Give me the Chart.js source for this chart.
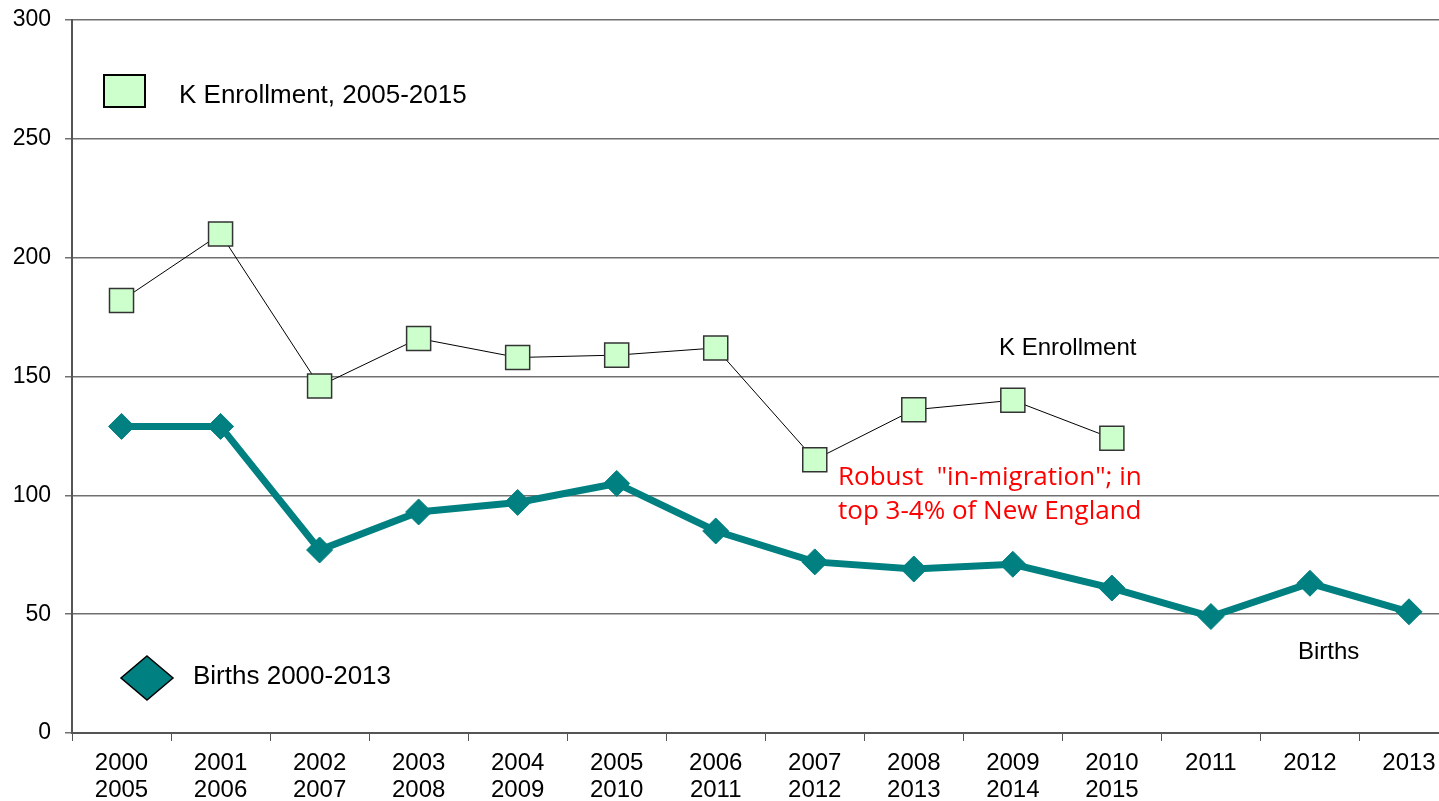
<!DOCTYPE html>
<html>
<head>
<meta charset="utf-8">
<script src="https://cdn.jsdelivr.net/npm/chart.js@4.4.1/dist/chart.umd.min.js"></script>
<style>
  html, body { margin: 0; padding: 0; background: #fff; overflow: hidden; }
  #wrap { position: relative; width: 1477px; height: 801px; }
</style>
</head>
<body>
<div id="wrap"><canvas id="chart"></canvas></div>
<script>
// category labels (birth year / kindergarten year)
const birthYears = ['2000', '2001', '2002', '2003', '2004', '2005', '2006', '2007', '2008', '2009', '2010', '2011', '2012', '2013'];
const kYears = ['2005', '2006', '2007', '2008', '2009', '2010', '2011', '2012', '2013', '2014', '2015', '', '', ''];

const kEnrollment = [182, 210, 146, 166, 158, 159, 162, 115, 136, 140, 124, null, null, null];
const births = [129, 129, 77, 93, 97, 105, 85, 72, 69, 71, 61, 49, 63, 51];

const yTicks = [0, 50, 100, 150, 200, 250, 300];

const labels = birthYears.map((b, i) => kYears[i] ? [b, kYears[i]] : b);

const TEAL = '#008080';
const GREEN = '#ccffcc';
const FONT = '"Liberation Sans", Arial, sans-serif';

// free text and hand-made legend drawn on top of the plot
const notesPlugin = {
  id: 'notes',
  afterDatasetsDraw(chart) {
    const ctx = chart.ctx;
    ctx.save();

    // legend: square
    ctx.fillStyle = GREEN;
    ctx.strokeStyle = '#000';
    ctx.lineWidth = 2;
    ctx.fillRect(104, 75, 41, 32);
    ctx.strokeRect(104, 75, 41, 32);

    // legend: diamond
    ctx.beginPath();
    ctx.moveTo(147, 656);
    ctx.lineTo(173, 678);
    ctx.lineTo(147, 700);
    ctx.lineTo(121, 678);
    ctx.closePath();
    ctx.fillStyle = TEAL;
    ctx.fill();
    ctx.lineWidth = 1.5;
    ctx.stroke();

    ctx.fillStyle = '#000';
    ctx.textBaseline = 'middle';
    ctx.textAlign = 'left';
    ctx.font = '26px ' + FONT;
    ctx.fillText('K Enrollment, 2005-2015', 179, 96);
    ctx.fillText('Births 2000-2013', 193, 677);

    ctx.font = '24px ' + FONT;
    ctx.fillText('K Enrollment', 999, 348);
    ctx.fillText('Births', 1298, 652);

    ctx.fillStyle = '#ff0000';
    ctx.font = '26px "Open Sans", sans-serif';
    ctx.fillText('Robust  "in-migration"; in', 838, 478);
    ctx.fillText('top 3-4% of New England', 838, 512);
    ctx.restore();
  }
};

new Chart(document.getElementById('chart'), {
  type: 'line',
  data: {
    labels,
    datasets: [
      {
        label: 'Births 2000-2013',
        data: births,
        borderColor: TEAL,
        backgroundColor: TEAL,
        borderWidth: 7,
        pointStyle: 'rectRot',
        pointRadius: 13,
        pointBorderColor: TEAL,
        pointBorderWidth: 1,
        tension: 0,
        order: 2,
      },
      {
        label: 'K Enrollment, 2005-2015',
        data: kEnrollment,
        borderColor: '#000',
        borderWidth: 1,
        backgroundColor: GREEN,
        pointStyle: 'rect',
        pointRadius: 17,
        pointBorderColor: '#333',
        pointBorderWidth: 1.5,
        tension: 0,
        spanGaps: false,
        order: 1,
      },
    ],
  },
  options: {
    responsive: true,
    maintainAspectRatio: false,
    animation: false,
    layout: { padding: { top: 20, right: 2, left: 0, bottom: 0 } },
    plugins: {
      legend: { display: false },
      tooltip: { enabled: false },
    },
    scales: {
      x: {
        offset: true,
        grid: {
          offset: true,
          drawOnChartArea: false,
          drawTicks: true,
          tickLength: 8,
          color: '#555',
        },
        border: { color: '#555', width: 2 },
        ticks: {
          color: '#000',
          font: { family: FONT, size: 24, lineHeight: 1.13 },
          maxRotation: 0,
          autoSkip: false,
          padding: 9,
        },
        afterFit(scale) { scale.height = 68; },
      },
      y: {
        min: 0,
        max: 300,
        afterBuildTicks(scale) { scale.ticks = yTicks.map(v => ({ value: v })); },
        grid: {
          color: '#707070',
          lineWidth: 1.5,
          tickLength: 7,
        },
        border: { color: '#555', width: 2 },
        ticks: {
          color: '#000',
          font: { family: FONT, size: 23 },
          padding: 14,
        },
        afterFit(scale) {
          scale.width = 72;
          scale.paddingTop = 0;
        },
      },
    },
  },
  plugins: [notesPlugin],
});
</script>
</body>
</html>
